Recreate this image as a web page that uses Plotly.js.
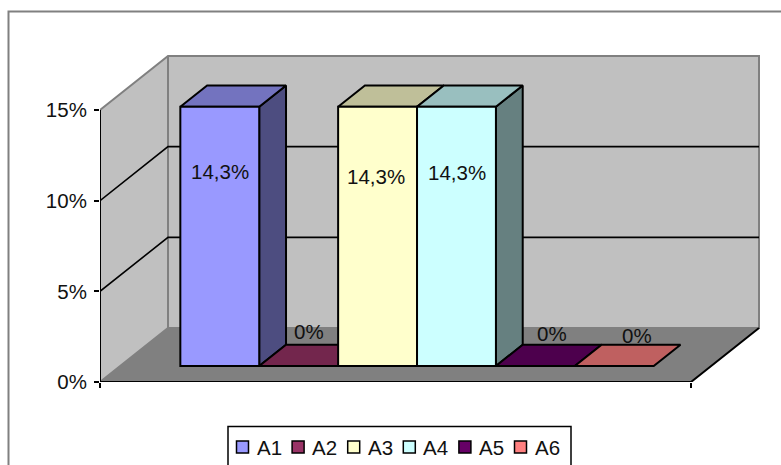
<!DOCTYPE html>
<html>
<head>
<meta charset="utf-8">
<script src="https://cdn.plot.ly/plotly-3.0.1.min.js"></script>
<style>html,body{margin:0;padding:0;background:#fff;overflow:hidden}</style>
</head>
<body>
<div id="chart" style="width:781px;height:465px"></div>
<script>
// --- data ---
const categories = ['A1','A2','A3','A4','A5','A6'];
const values = [14.3, 0, 14.3, 14.3, 0, 0];
const yTickValues = [0, 5, 10, 15];
const yTickLabels = ['0%', '5%', '10%', '15%'];

// --- styles ---
const frontColors = ['#9999FF','#993366','#FFFFCC','#CCFFFF','#660066','#FF8080'];
const topColors   = ['#7373BF','#73264D','#BFBF99','#99BFBF','#4D004D','#BF6060'];
const sideColors  = ['#4D4D80','#4D1A33','#808066','#668080','#330033','#804040'];

// --- layout geometry (pixels of the page) ---
const W = 781, H = 465, L = 100, R = 760, T = 55, B = 382;
const barPx = 78.9;
const pxPerPct = 272 / 15;
const depthX = 68 / barPx, depthY = 54 / pxPerPct;
const axisLen = 591 / barPx, clusterLeft = 60.2 / barPx;
const dF = 0.296, dB = 0.69;
const xMax = (R - L) / barPx, yMax = (B - T) / pxPerPct;

const P = (x, v, d) => [x + d * depthX, v + d * depthY];
const pxX = p => (p - L) / barPx;
const pxY = p => (B - p) / pxPerPct;
const paperX = p => (p - L) / (R - L);
const paperY = p => (B - p) / (B - T);

function poly(pts, fill, lineColor, lineWidth, closed) {
  const xs = pts.map(p => p[0]), ys = pts.map(p => p[1]);
  if (closed) { xs.push(xs[0]); ys.push(ys[0]); }
  const t = {
    type: 'scatter', mode: 'lines', x: xs, y: ys, xaxis: 'x', yaxis: 'y',
    cliponaxis: false, hoverinfo: 'skip', showlegend: false,
    line: { color: lineColor || 'rgba(0,0,0,0)', width: lineWidth || 0 }
  };
  if (fill) { t.fill = 'toself'; t.fillcolor = fill; }
  return t;
}

const traces = [];
const top15 = yTickValues[yTickValues.length - 1];
// walls and floor
traces.push(poly([P(0,0,1),P(axisLen,0,1),P(axisLen,top15,1),P(0,top15,1)], '#C0C0C0'));
traces.push(poly([P(0,0,0),P(0,top15,0),P(0,top15,1),P(0,0,1)], '#C0C0C0'));
traces.push(poly([P(0,0,0),P(axisLen,0,0),P(axisLen,0,1),P(0,0,1)], '#808080'));
// wall edges
traces.push(poly([P(0,0,0),P(0,0,1),P(axisLen,0,1),P(axisLen,top15,1),P(0,top15,1),P(0,top15,0)], null, '#808080', 2));
traces.push(poly([P(0,0,1),P(0,top15,1)], null, '#808080', 2));
// gridlines
yTickValues.slice(1, -1).forEach(t => {
  traces.push(poly([P(0,t,0),P(0,t,1),P(axisLen,t,1)], null, '#000000', 1.6));
});
// floor front edges and value axis
traces.push(poly([P(0,top15,0),P(0,0,0),P(axisLen,0,0),P(axisLen,0,1)], null, '#000000', 2));

// bar sides and tops
values.forEach((v, i) => {
  const l = clusterLeft + i, r = l + 1;
  if (v > 0) traces.push(poly([P(r,0,dF),P(r,0,dB),P(r,v,dB),P(r,v,dF)], sideColors[i], '#000', 2, true));
  traces.push(poly([P(l,v,dF),P(r,v,dF),P(r,v,dB),P(l,v,dB)], topColors[i], '#000', 2, true));
});
// bar fronts, on an overlaid pair of axes so that they cover the faces behind them
categories.forEach((c, i) => {
  traces.push({
    type: 'bar', name: c, x: [P(clusterLeft + i + 0.5, 0, dF)[0]], y: [values[i]],
    base: [P(0, 0, dF)[1]], width: [1], xaxis: 'x2', yaxis: 'y2', showlegend: false,
    marker: { color: frontColors[i], line: { color: '#000', width: 2 } },
    hovertemplate: c + ': %{y}%<extra></extra>'
  });
});

// data labels
const fmt = v => v === 0 ? '0%' : v.toFixed(1).replace('.', ',') + '%';
const labelPx = [[220,171],[309,331],[375.5,176],[457,172],[552,333],[637,335]];
const FONT = 'Liberation Sans, Arial, sans-serif';
const FS = 20.5;
const annotations = values.map((v, i) => ({
  xref: 'x', yref: 'y', x: pxX(labelPx[i][0]), y: pxY(labelPx[i][1]),
  text: fmt(v), showarrow: false, xanchor: 'center', yanchor: 'middle',
  font: { family: FONT, size: FS, color: '#111' }
}));

// frame and legend box
const shapes = [
  { type:'rect', xref:'paper', yref:'paper', x0:paperX(8.5), x1:paperX(820), y0:paperY(11.5), y1:paperY(520),
    line:{color:'#808080', width:2}, fillcolor:'rgba(0,0,0,0)', layer:'below' },
  { type:'rect', xref:'paper', yref:'paper', x0:paperX(228), x1:paperX(571), y0:paperY(426.5), y1:paperY(490),
    line:{color:'#000', width:1.5}, fillcolor:'#fff', layer:'above' }
];
const legendStart = 236.5, legendStep = 55.6, swatch = 12;
categories.forEach((c, i) => {
  const x0 = legendStart + i * legendStep;
  shapes.push({ type:'rect', xref:'paper', yref:'paper', x0:paperX(x0), x1:paperX(x0 + swatch),
    y0:paperY(441), y1:paperY(453), fillcolor:frontColors[i], line:{color:'#000', width:1.5}, layer:'above' });
  annotations.push({ xref:'paper', yref:'paper', x:paperX(x0 + 18), y:paperY(447), text:c, showarrow:false,
    xanchor:'left', yanchor:'middle', font:{ family:FONT, size:FS, color:'#111' } });
});

const layout = {
  width: W, height: H, autosize: false,
  margin: { l: L, r: W - R, t: T, b: H - B, pad: 0 },
  paper_bgcolor: '#fff', plot_bgcolor: 'rgba(0,0,0,0)',
  showlegend: false, barmode: 'overlay',
  font: { family: FONT, size: FS, color: '#111' },
  xaxis: { range: [0, xMax], tickmode: 'array', tickvals: [0, axisLen], ticktext: ['', ''],
    ticks: 'outside', ticklen: 5, tickwidth: 2, tickcolor: '#000', showgrid: false, zeroline: false, showline: false, fixedrange: true },
  yaxis: { range: [0, yMax], tickmode: 'array', tickvals: yTickValues, ticktext: yTickLabels, ticklabelstandoff: 3,
    ticks: 'outside', ticklen: 5, tickwidth: 2, tickcolor: '#000', showgrid: false, zeroline: false, showline: false, fixedrange: true },
  xaxis2: { range: [0, xMax], overlaying: 'x', visible: false, fixedrange: true },
  yaxis2: { range: [0, yMax], overlaying: 'y', visible: false, fixedrange: true },
  shapes, annotations
};
Plotly.newPlot('chart', traces, layout, { displayModeBar: false, responsive: false });
</script>
</body>
</html>
